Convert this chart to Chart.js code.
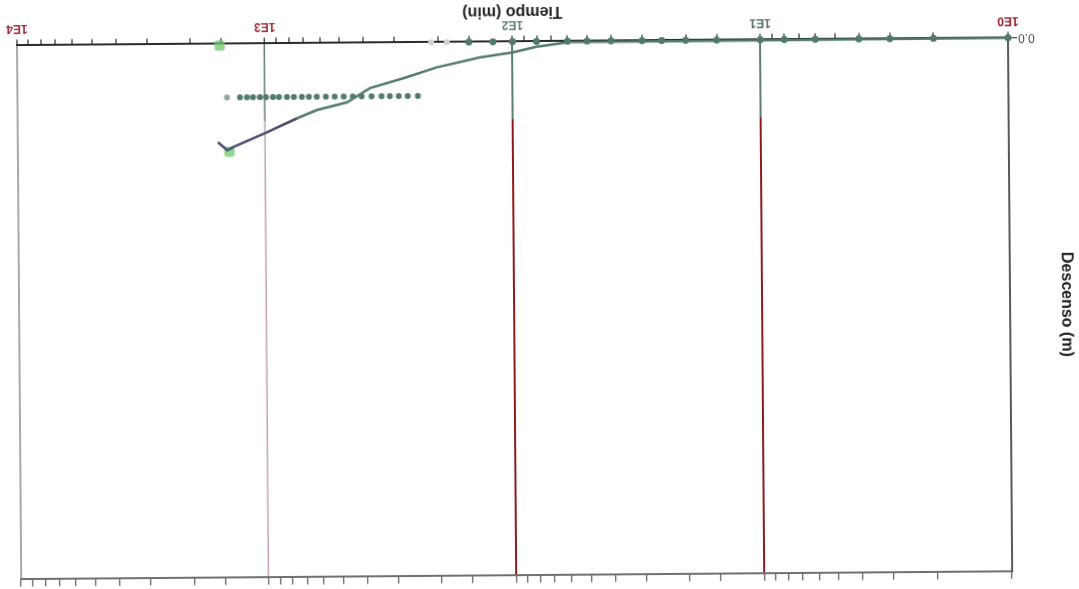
<!DOCTYPE html>
<html lang="es">
<head>
<meta charset="utf-8">
<title>Descenso vs tiempo</title>
<script src="https://cdn.jsdelivr.net/npm/chart.js@4.4.1/dist/chart.umd.min.js"></script>
<style>
  html, body { margin: 0; padding: 0; background: #fff; overflow: hidden; }
  #lienzo { width: 1079px; height: 589px; }
  /* la hoja escaneada quedó girada media vuelta */
  #grafico { display: block; transform: rotate(179.55deg); transform-origin: 50% 50%; }
</style>
</head>
<body>
<div id="lienzo"><canvas id="grafico" width="1079" height="589"></canvas></div>
<script>
// Curva de descenso (min, m)
const tiempoCurva = [1, 60, 80, 100, 136, 203, 277, 378, 467, 619, 743, 985, 1349, 1427, 1557];
const descensoCurva = [0, 0.02, 0.1, 0.2, 0.29, 0.47, 0.67, 0.85, 1.11, 1.25, 1.4, 1.66, 1.93, 1.99, 1.84];

// Lecturas marcadas sobre el eje
const tiempoObs = [1, 2, 3, 4, 6, 8, 10, 15, 20, 25, 30, 40, 50, 60, 80, 100, 120, 150];
const descensoObs = [0, 0, 0, 0, 0, 0, 0, 0, 0, 0, 0, 0, 0, 0, 0, 0, 0, 0];

// Fila de puntos a 1.0 m
const tiempoFila = [242, 266, 289, 314, 339, 372, 408, 443, 482, 524, 569, 619, 666, 711, 766, 817, 880, 930, 993, 1050, 1120, 1184, 1264];
const descensoFila = [1, 1, 1, 1, 1, 1, 1, 1, 1, 1, 1, 1, 1, 1, 1, 1, 1, 1, 1, 1, 1, 1, 1];

// Puntos tenues y resaltados
const tiempoTenue = [184, 213, 1426];
const descensoTenue = [0, 0, 1];
const tiempoResalte = [1521, 1400];
const descensoResalte = [0.03, 2.02];

// Etiquetas del eje de tiempo
const decadas = [1, 10, 100, 1000, 10000];
const etiquetasDecada = ['1E0', '1E1', '1E2', '1E3', '1E4'];
const coloresDecada = ['#8a1f2b', '#557265', '#5f8070', '#a02a38', '#a02a38'];

const verde = '#527a69';

function puntos(xs, ys) {
    return xs.map((x, i) => ({ x: x, y: ys[i] }));
}

function indiceDecada(v) {
    return decadas.findIndex(d => Math.abs(d - v) < 1e-9);
}

// Las rejillas de década: verdes cerca del eje, rojas el resto
function colorRejilla(chart, rojo) {
    const area = chart.chartArea;
    if (!area) return rojo;
    const g = chart.ctx.createLinearGradient(0, area.top, 0, area.bottom);
    g.addColorStop(0, rojo);
    g.addColorStop(0.855, rojo);
    g.addColorStop(0.855, '#5e7f70');
    g.addColorStop(1, '#5e7f70');
    return g;
}

Chart.defaults.font.family = "'Liberation Sans', Arial, sans-serif";

const ctx = document.getElementById('grafico').getContext('2d');
const chart = new Chart(ctx, {
    type: 'scatter',
    data: {
        datasets: [
            {
                label: 'Curva',
                data: puntos(tiempoCurva, descensoCurva),
                showLine: true,
                borderColor: verde,
                borderWidth: 2.5,
                pointRadius: 0,
                clip: 8,
                segment: {
                    borderColor: s => s.p0.parsed.x >= 700 ? '#4b4a6e' : undefined
                }
            },
            {
                label: 'Lecturas',
                data: puntos(tiempoObs, descensoObs),
                pointRadius: 3.5,
                pointBackgroundColor: verde,
                pointBorderWidth: 0,
                clip: 8
            },
            {
                label: 'Fila',
                data: puntos(tiempoFila, descensoFila),
                pointRadius: 3,
                pointBackgroundColor: verde,
                pointBorderWidth: 0,
                clip: 8
            },
            {
                label: 'Tenues',
                data: puntos(tiempoTenue, descensoTenue),
                pointRadius: 3,
                pointBackgroundColor: ['#cfcfcf', '#cfcfcf', '#8fa99c'],
                pointBorderWidth: 0,
                clip: 8
            },
            {
                label: 'Resalte',
                data: puntos(tiempoResalte, descensoResalte),
                pointStyle: 'rectRounded',
                pointRadius: 6,
                pointBackgroundColor: 'rgba(110, 200, 110, 0.75)',
                pointBorderWidth: 0,
                clip: 10
            }
        ]
    },
    options: {
        responsive: false,
        animation: false,
        devicePixelRatio: 1,
        layout: { padding: { left: 0, right: 19, top: 0, bottom: 0 } },
        plugins: {
            legend: { display: false },
            tooltip: { enabled: false }
        },
        scales: {
            x: {
                type: 'logarithmic',
                position: 'bottom',
                min: 1,
                max: 10000,
                afterFit: s => { s.height = 41.5; },
                border: { color: '#2b2b2b', width: 2 },
                grid: {
                    color: c => {
                        const i = indiceDecada(c.tick.value);
                        if (i < 0) return 'rgba(0,0,0,0)';
                        if (i === 0) return '#555';
                        if (i === 4) return '#a9a9a9';
                        return colorRejilla(c.chart, i === 3 ? '#c9a3ab' : '#8e1b1b');
                    },
                    lineWidth: c => (indiceDecada(c.tick.value) === 3 ? 1.5 : 2),
                    tickColor: '#2b2b2b',
                    tickLength: 6,
                    tickWidth: 1.2
                },
                ticks: {
                    autoSkip: false,
                    maxRotation: 0,
                    padding: 4,
                    font: { size: 12, weight: 'bold' },
                    color: c => {
                        const i = indiceDecada(c.tick.value);
                        return i < 0 ? '#000' : coloresDecada[i];
                    },
                    callback: v => {
                        const i = indiceDecada(v);
                        return i < 0 ? '' : etiquetasDecada[i];
                    }
                },
                title: {
                    display: true,
                    text: 'Tiempo (min)',
                    color: '#222',
                    font: { size: 16, weight: 'bold' },
                    padding: { top: 0, bottom: 2 }
                }
            },
            x2: {
                type: 'logarithmic',
                position: 'top',
                min: 1,
                max: 10000,
                afterFit: s => { s.height = 13.5; },
                border: { color: '#707070', width: 2 },
                grid: {
                    drawOnChartArea: false,
                    tickColor: '#555',
                    tickLength: 7,
                    tickWidth: 1.2
                },
                ticks: {
                    autoSkip: false,
                    maxRotation: 0,
                    callback: () => ''
                }
            },
            y: {
                type: 'linear',
                position: 'left',
                min: 0,
                max: 10,
                afterFit: s => { s.width = 69; },
                border: { color: '#5a5a5a', width: 1.5 },
                grid: {
                    drawOnChartArea: false,
                    tickColor: c => (c.tick.value === 0 ? '#222' : 'rgba(0,0,0,0)'),
                    tickLength: 9
                },
                ticks: {
                    stepSize: 1,
                    padding: 1,
                    color: '#444',
                    font: { size: 12 },
                    callback: v => (v === 0 ? '0.0' : '')
                },
                title: {
                    display: true,
                    text: 'Descenso (m)',
                    color: '#222',
                    font: { size: 16, weight: 'bold' },
                    padding: { top: 3, bottom: 0 }
                }
            }
        }
    }
});
</script>
</body>
</html>
